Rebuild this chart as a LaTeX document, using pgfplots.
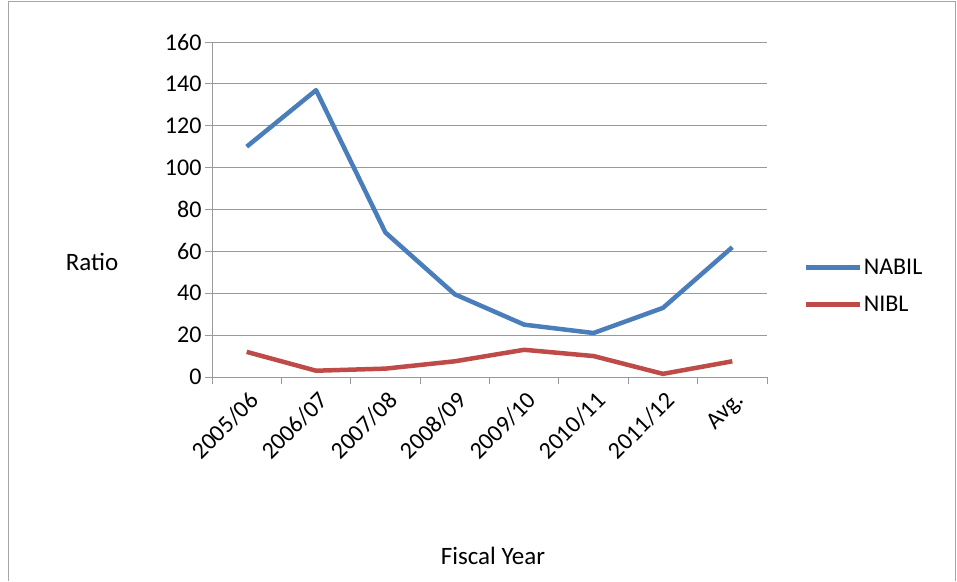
\documentclass[border=0pt]{standalone}
\usepackage{pgfplots}
\pgfplotsset{compat=1.18}
\usepackage{fontspec}
\setmainfont{Carlito}
\definecolor{nabil}{RGB}{74,126,187}
\definecolor{nibl}{RGB}{190,75,72}
\begin{document}
\begin{tikzpicture}[x=1pt,y=1pt]
\useasboundingbox (0,0) rectangle (957,581);
\draw[gray!70,line width=1pt] (8,0) -- (8,579) -- (955,579) -- (955,0);
\begin{axis}[at={(212pt,204pt)},anchor=south west,scale only axis,width=555pt,height=335pt,
 xmin=-0.5,xmax=7.5,ymin=0,ymax=160,ytick={0,20,...,160},
 xtick={0,...,7},xticklabels={2005/06,2006/07,2007/08,2008/09,2009/10,2010/11,2011/12,Avg.},
 minor xtick={-0.5,0.5,...,7.5},
 axis lines*=left, axis line style={gray!80,line width=0.8pt},
 ymajorgrids, grid style={gray!80,line width=0.8pt},
 major x tick style={draw=none}, minor tick length=7pt, major tick length=7pt,
 tick align=outside, tick style={gray!80,line width=0.8pt},
 xticklabel style={rotate=45,anchor=north east,font=\fontsize{24}{28}\selectfont,yshift=-2pt},
 yticklabel style={font=\fontsize{24}{28}\selectfont},
 /pgf/number format/assume math mode=true,
 legend style={at={(1.065,0.365)},anchor=north west,draw=none,fill=none,font=\fontsize{24}{28}\selectfont,row sep=16pt,inner xsep=0pt,
   /tikz/every even column/.append style={column sep=2pt}},
 legend cell align=left,
 legend image code/.code={\draw[#1] (0,0) -- (54pt,0);},
 clip=false]
\addplot[nabil,line width=4.5pt,line join=round] coordinates {(0,110)(1,137)(2,69)(3,39.5)(4,25)(5,21)(6,33)(7,62)};
\addlegendentry{NABIL}
\addplot[nibl,line width=4.5pt,line join=round] coordinates {(0,12)(1,3)(2,4)(3,7.5)(4,13)(5,10)(6,1.5)(7,7.5)};
\addlegendentry{NIBL}
\end{axis}
\node[font=\fontsize{25}{28}\selectfont] at (92,319) {Ratio};
\node[font=\fontsize{25}{28}\selectfont] at (493,25) {Fiscal Year};
\end{tikzpicture}
\end{document}
